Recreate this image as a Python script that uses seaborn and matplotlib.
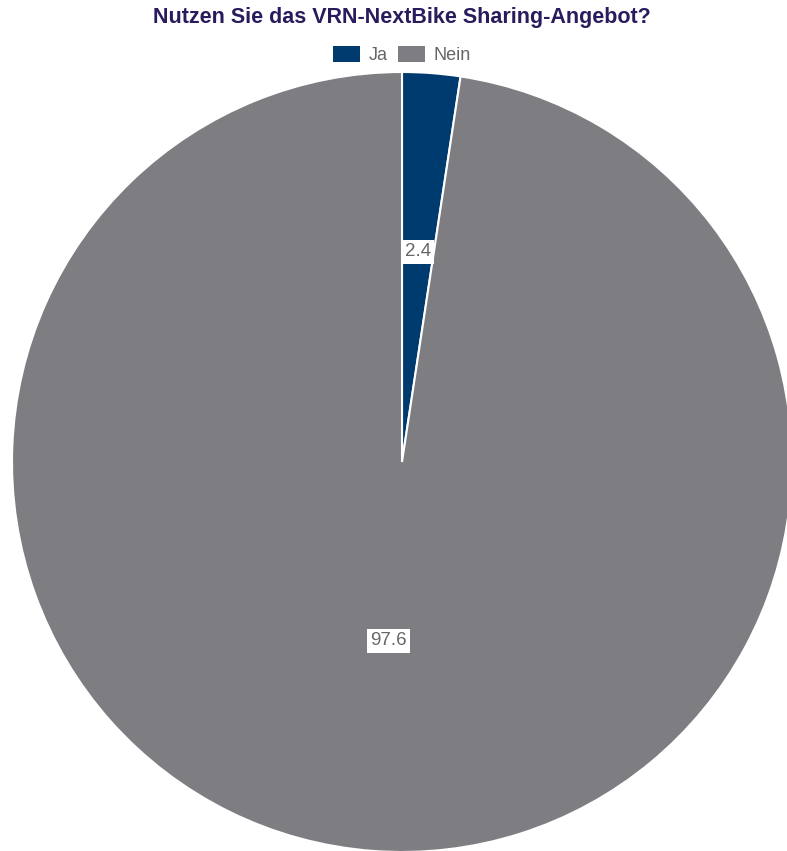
import numpy as np
import seaborn as sns
import matplotlib.pyplot as plt
from matplotlib.patches import Patch

categories = ["Ja", "Nein"]
values = [2.4, 97.6]
colors = ["#003b70", "#7e7d82"]
label_dist = [0.54, 0.46]

sns.set_theme(style="white")
plt.rcParams['font.family'] = ['Liberation Sans', 'DejaVu Sans']

fig = plt.figure(figsize=(7.87, 8.51), dpi=100)
# pie centre ~ (402, 462) px, radius ~390 px
ax = fig.add_axes([12 / 787, -1 / 851, 780 / 787, 780 / 851])
wedges, texts, autotexts = ax.pie(
    values, colors=colors, startangle=90, counterclock=False,
    autopct=lambda p: f"{p:.1f}", pctdistance=0.5,
    wedgeprops=dict(edgecolor="white", linewidth=1.5),
    textprops=dict(color="#666666", fontsize=13.5))
for w, t, d in zip(wedges, autotexts, label_dist):
    ang = np.deg2rad((w.theta1 + w.theta2) / 2)
    t.set_position((d * np.cos(ang), d * np.sin(ang)))
    t.set_bbox(dict(facecolor="white", edgecolor="none", pad=2.5))
ax.set_xlim(-1, 1)
ax.set_ylim(-1, 1)
ax.set_aspect("equal")
ax.axis("off")

fig.text(402 / 787, 1 - 18 / 851, "Nutzen Sie das VRN-NextBike Sharing-Angebot?",
         ha="center", va="center", fontsize=15.5, fontweight="bold", color="#2a1b5c")

handles = [Patch(facecolor=c, edgecolor="none") for c in colors]
fig.legend(handles, categories, loc="center", bbox_to_anchor=(402 / 787, 1 - 55 / 851),
           ncol=2, frameon=False, fontsize=13, handlelength=1.5, handleheight=0.95,
           handletextpad=0.5, columnspacing=0.55, labelcolor="#666666")

fig.savefig("out.png", dpi=100, facecolor="white")
